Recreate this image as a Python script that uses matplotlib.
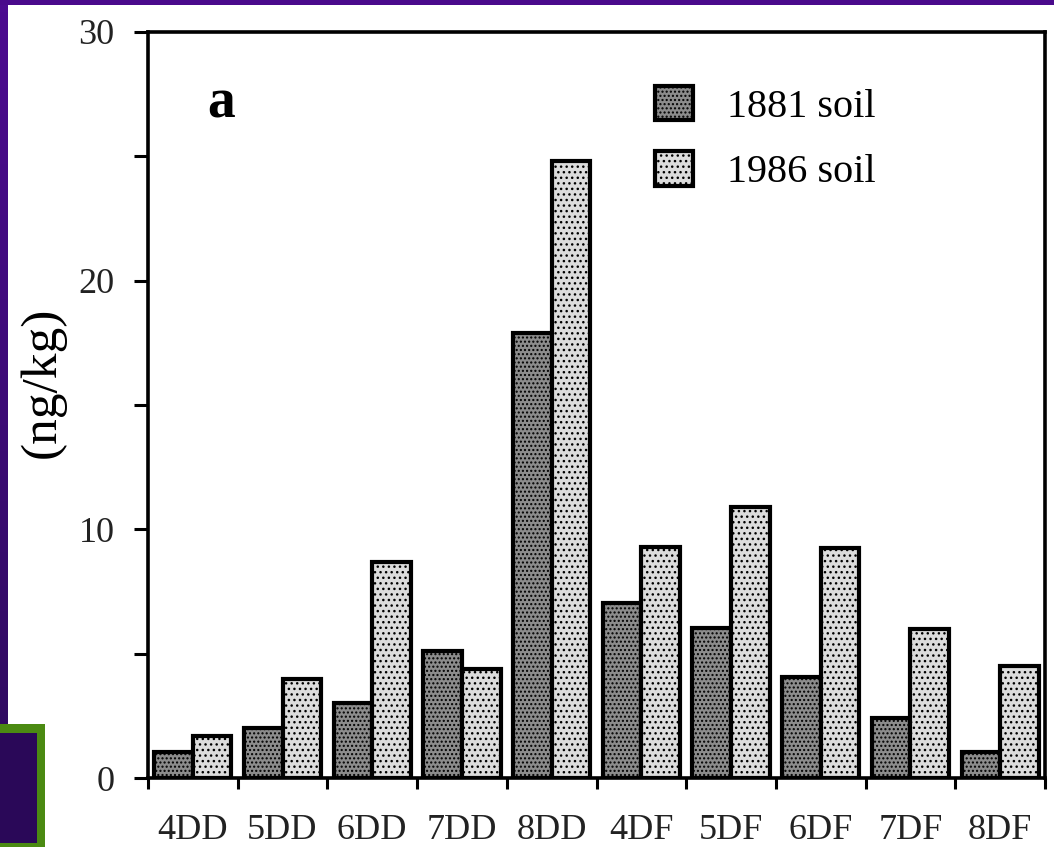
import numpy as np
import matplotlib
matplotlib.use("Agg")
import matplotlib.pyplot as plt
from matplotlib.patches import Rectangle
from matplotlib.colors import LinearSegmentedColormap

# data
congeners = ["4DD", "5DD", "6DD", "7DD", "8DD", "4DF", "5DF", "6DF", "7DF", "8DF"]
soil_1881 = [1.05, 2.0, 3.0, 5.1, 17.9, 7.05, 6.05, 4.05, 2.4, 1.05]
soil_1986 = [1.7, 4.0, 8.7, 4.4, 24.8, 9.3, 10.9, 9.25, 6.0, 4.5]
series_names = ["1881 soil", "1986 soil"]

plt.rcParams["font.family"] = ["Liberation Serif", "DejaVu Serif"]
plt.rcParams["hatch.linewidth"] = 1.0

W, H = 1054, 847
fig = plt.figure(figsize=(W / 100, H / 100), dpi=100)
fig.patch.set_facecolor("white")

# purple frame strips and the green box at bottom-left
fig.patches.append(Rectangle((0, 1 - 5 / H), 1, 5 / H, transform=fig.transFigure,
                             facecolor="#4a0a8c", edgecolor="none"))
strip = fig.add_axes([0, 0, 8 / W, 1 - 5 / H])
grad = np.linspace(0, 1, 100).reshape(-1, 1)
cm = LinearSegmentedColormap.from_list("p", ["#4c0b90", "#2c0a5a"])
strip.imshow(grad, aspect="auto", cmap=cm, extent=[0, 1, 0, 1], origin="upper")
strip.axis("off")
fig.patches.append(Rectangle((0, 0), 45 / W, (H - 724) / H, transform=fig.transFigure,
                             facecolor="#4b8a12", edgecolor="none", zorder=5))
fig.patches.append(Rectangle((0, 4 / H), 37 / W, (H - 733 - 4) / H, transform=fig.transFigure,
                             facecolor="#2a0858", edgecolor="none", zorder=6))

ax = fig.add_axes([148 / W, (H - 778) / H, (1045 - 148) / W, (778 - 32) / H])

x = np.arange(len(congeners))
bw = 0.43
ax.bar(x + 0.5 - bw / 2, soil_1881, bw, facecolor="#8c8c8c", edgecolor="black",
       linewidth=3, hatch="....", label=series_names[0], zorder=3)
ax.bar(x + 0.5 + bw / 2, soil_1986, bw, facecolor="#dcdcdc", edgecolor="black",
       linewidth=3, hatch="...", label=series_names[1], zorder=3)

ax.set_xlim(0, len(congeners))
ax.set_ylim(0, 30)
ax.set_xticks(np.arange(len(congeners) + 1))
ax.set_xticklabels([])
ax.set_xticks(x + 0.5, minor=True)
ax.set_xticklabels(congeners, minor=True, fontsize=26, color="#222222")
ax.tick_params(axis="x", which="major", direction="out", length=8, width=2.2)
ax.tick_params(axis="x", which="minor", length=0, pad=26)

ax.set_yticks([0, 10, 20, 30])
ax.set_yticklabels(["0", "10", "20", "30"], fontsize=26, color="#222222")
ax.set_yticks([5, 15, 25], minor=True)
ax.tick_params(axis="y", which="both", direction="out", length=10, width=2.2, pad=14)

for s in ax.spines.values():
    s.set_linewidth(2.6)

ax.set_ylabel("(ng/kg)", fontsize=37)
ax.yaxis.set_label_coords(-0.092, 0.53)

ax.text(0.066, 0.885, "a", transform=ax.transAxes, fontsize=40, fontweight="bold")

ax.legend(loc="upper left", bbox_to_anchor=(0.565, 0.928), frameon=False,
          fontsize=29, handlelength=0.95, handleheight=0.95, handletextpad=0.85,
          labelspacing=0.62, borderpad=0, borderaxespad=0)

fig.savefig("out.png", dpi=100, facecolor=fig.get_facecolor())
